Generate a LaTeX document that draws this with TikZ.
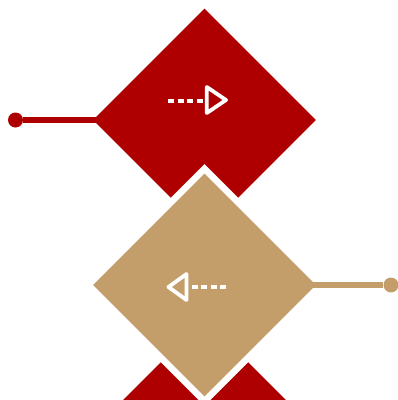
\documentclass[tikz,border=0pt]{standalone}
\usepackage{xcolor}
\usepackage{tikz}
\usetikzlibrary{shapes.geometric}
\definecolor{crimson}{HTML}{AE0000}
\definecolor{sand}{HTML}{C49E6A}

\begin{document}
\begin{tikzpicture}[x=1pt,y=-1pt,
  tile/.style={diamond,aspect=1,inner sep=0pt,minimum width=223pt,minimum height=223pt},
  halo/.style={tile,minimum width=242pt,minimum height=242pt,fill=white},
  dot/.style={circle,inner sep=0pt,minimum size=15pt},
  link/.style={line width=5.5pt},
  icon/.style={draw=white,line width=3.8pt,line join=round},
  dashline/.style={white,line width=4pt,dash pattern=on 6pt off 3.5pt}]
  \useasboundingbox (0,0) rectangle (398,400);
  \node[tile,fill=crimson] (stepA) at (204.5,120) {};
  \node[tile,fill=crimson] (stepC) at (204.5,430) {};
  \node[halo] (haloB) at (204.5,285) {};
  \node[tile,fill=sand] (stepB) at (204.5,285) {};
  \node[dot,fill=crimson] (dotA) at (15.5,120) {};
  \node[dot,fill=sand] (dotB) at (391,285) {};
  \draw[link,crimson] (dotA) -- ([xshift=6pt]stepA.west);
  \draw[link,sand] ([xshift=-6pt]stepB.east) -- (dotB);
  % forward icon
  \draw[dashline] (168,101) -- (202.5,101);
  \draw[icon] (206.8,87) -- (206.8,113) -- (226,100) -- cycle;
  % back icon
  \draw[dashline] (226,287) -- (191.5,287);
  \draw[icon] (186.5,274) -- (186.5,300) -- (168.5,287) -- cycle;
\end{tikzpicture}
\end{document}
